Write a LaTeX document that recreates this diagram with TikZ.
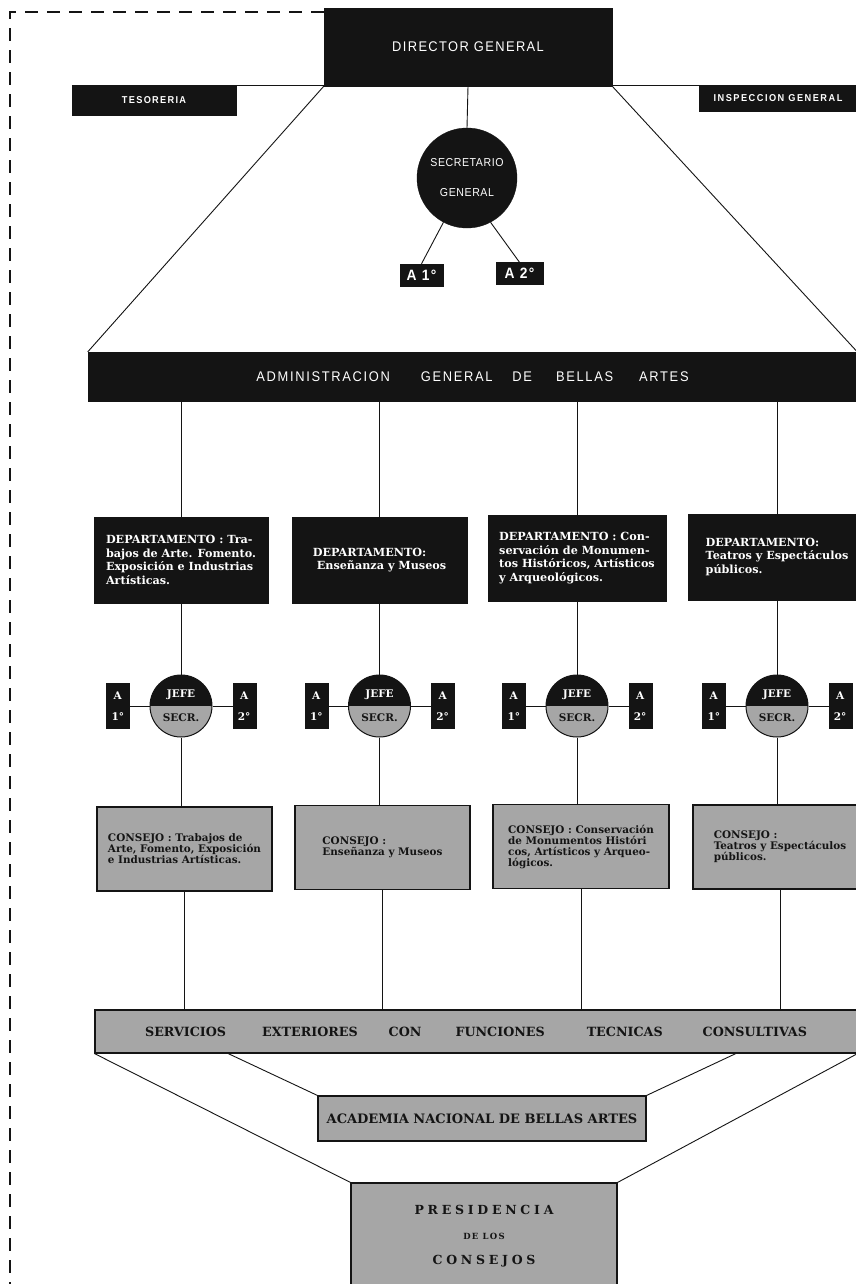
\documentclass[tikz,border=0pt]{standalone}
\usepackage{fontspec}
\setmainfont{DejaVu Serif}
\newfontfamily\gothic{Liberation Sans}[FakeStretch=0.92]
\newfontfamily\slab{DejaVu Serif}
\usepackage{tikz}
\usetikzlibrary{positioning}
\definecolor{chartInk}{HTML}{141414}
\definecolor{chartScreen}{HTML}{A6A6A6}
\definecolor{chartPaper}{HTML}{FFFFFF}
\tikzset{
  inkbox/.style={fill=chartInk, draw=chartInk, text=white, inner sep=0pt},
  screenbox/.style={fill=chartScreen, draw=chartInk, line width=1.1pt,
    text=chartInk, inner sep=0pt, align=left},
  link/.style={draw=chartInk, line width=0.9pt},
  framedash/.style={draw=chartInk, line width=1.1pt,
    dash pattern=on 13pt off 9pt},
  deptbox/.style={inkbox, minimum height=86pt, align=left,
    font=\slab\bfseries\fontsize{11.2}{13.4}\selectfont},
  consejobox/.style={screenbox, minimum height=84pt,
    font=\slab\bfseries\fontsize{10.4}{11}\selectfont},
  jefe/.style={circle, draw=chartInk, line width=1pt, minimum size=62pt,
    inner sep=0pt, align=center, text=chartInk,
    font=\slab\bfseries\fontsize{10.5}{12}\selectfont,
    path picture={
      \fill[chartScreen] (path picture bounding box.south west)
        rectangle (path picture bounding box.east);
      \fill[chartInk] (path picture bounding box.west)
        rectangle (path picture bounding box.north east);}},
  ayubox/.style={inkbox, minimum width=23pt, minimum height=45pt,
    align=center, font=\slab\bfseries\fontsize{10.5}{12}\selectfont},
  gothicbar/.style={font=\gothic\addfontfeature{LetterSpace=12}%
    \fontsize{14}{16}\selectfont}
}

\begin{document}
\begin{tikzpicture}[x=1pt, y=-1pt]
    \useasboundingbox (0,0) rectangle (856,1284);
    \clip (0,0) rectangle (856,1284);
    \fill[chartPaper] (0,0) rectangle (856,1284);
    % ---- (a) direccion general ----
    \node[inkbox, minimum width=288pt, minimum height=78pt,
      font=\gothic\addfontfeature{LetterSpace=10}\fontsize{14}{16}\selectfont]
      (director) at (468,47) {DIRECTOR GENERAL};
    \node[inkbox, minimum width=164pt, minimum height=29pt,
      font=\gothic\bfseries\addfontfeature{LetterSpace=13}%
      \fontsize{10}{12}\selectfont] (tesoreria)
      at (154,100.5) {TESORERIA};
    \node[inkbox, minimum width=158pt, minimum height=25pt,
      font=\gothic\bfseries\addfontfeature{LetterSpace=15}%
      \fontsize{10}{12}\selectfont] (inspeccion)
      at (778,98.5) {INSPECCION GENERAL};
    \draw[link] (tesoreria.north west) -- (inspeccion.north east);
    \coordinate (frameTop) at (10,12);
    \coordinate (frameBot) at (10,1284);
    \draw[framedash] (director.west |- frameTop) -- (frameTop) -- (frameBot);
    \node[inkbox, circle, minimum size=100pt, align=center,
      font=\gothic\addfontfeature{LetterSpace=5}\fontsize{11.5}{13}\selectfont]
      (secretario) at (467,178) {SECRETARIO\\[17pt]GENERAL};
    \node[inkbox, minimum width=43pt, minimum height=22pt,
      font=\gothic\bfseries\addfontfeature{LetterSpace=10}%
      \fontsize{15}{16}\selectfont] (ayuda1)
      at (421.5,275) {A 1°};
    \node[inkbox, minimum width=47pt, minimum height=22pt,
      font=\gothic\bfseries\addfontfeature{LetterSpace=10}%
      \fontsize{15}{16}\selectfont] (ayuda2)
      at (519.5,273.5) {A 2°};
    \draw[link] (director.south) -- (secretario.north);
    \draw[link] (secretario.-118) -- (ayuda1.north);
    \draw[link] (secretario.-62) -- (ayuda2.north);
    \node[inkbox, gothicbar, minimum width=769pt, minimum height=49pt]
      (admin) at (472.5,376.5)
      {ADMINISTRACION\hspace{31pt}GENERAL\hspace{20pt}DE\hspace{24pt}%
       BELLAS\hspace{26pt}ARTES};
    \draw[link] (director.south west) -- (admin.north west);
    \draw[link] (director.south east) -- (admin.north east);
    % ---- (b) departamentos ----
    \node[deptbox, minimum width=174pt] (dept1) at (181,560)
      {DEPARTAMENTO : Tra-\\bajos de Arte. Fomento.\\
       Exposición e Industrias\\Artísticas.};
    \node[deptbox, minimum width=175pt] (dept2) at (379.5,560)
      {DEPARTAMENTO:\\\hspace*{4pt}Enseñanza y Museos};
    \node[deptbox, minimum width=178pt] (dept3) at (577,558)
      {DEPARTAMENTO : Con-\\servación de Monumen-\\
       tos Históricos, Artísticos\\y Arqueológicos.};
    \node[deptbox, minimum width=178pt] (dept4) at (777,557)
      {DEPARTAMENTO:\\Teatros y Espectáculos\\públicos.};
    \foreach \i in {1,...,4}
      \draw[link] (dept\i.north |- admin.south) -- (dept\i.north);
    % ---- (c) jefaturas ----
    \foreach \i/\x in {1/181, 2/379.5, 3/577, 4/777} {
      \node[jefe] (jefe\i) at (\x,706)
        {\textcolor{white}{JEFE}\\[12pt]SECR.};
      \node[ayubox, left=20pt of jefe\i] (ayuL\i) {A\\[9pt]1°};
      \node[ayubox, right=20pt of jefe\i] (ayuR\i) {A\\[9pt]2°};
      \draw[link] (ayuL\i) -- (jefe\i);
      \draw[link] (jefe\i) -- (ayuR\i);
      \draw[link] (dept\i.south) -- (jefe\i.north);
    }
    % ---- (d) consejos ----
    \node[consejobox, minimum width=175pt] (consejo1) at (184.5,849)
      {CONSEJO : Trabajos de\\Arte, Fomento, Exposición\\
       e Industrias Artísticas.};
    \node[consejobox, minimum width=175pt] (consejo2) at (382.5,847.5)
      {CONSEJO :\\Enseñanza y Museos};
    \node[consejobox, minimum width=176pt] (consejo3) at (581,846.5)
      {CONSEJO : Conservación\\de Monumentos Históri\\
       cos, Artísticos y Arqueo-\\lógicos.};
    \node[consejobox, minimum width=174pt] (consejo4) at (780,847)
      {CONSEJO :\\Teatros y Espectáculos\\públicos.};
    \node[screenbox, minimum width=762pt, minimum height=43pt,
      font=\slab\bfseries\fontsize{12.7}{14}\selectfont] (servicios)
      at (476,1031.5)
      {SERVICIOS\hspace{36pt}EXTERIORES\hspace{31pt}CON\hspace{34pt}%
       FUNCIONES\hspace{42pt}TECNICAS\hspace{40pt}CONSULTIVAS};
    \foreach \i in {1,...,4} {
      \draw[link] (jefe\i.south) -- (jefe\i.south |- consejo\i.north);
      \draw[link] (consejo\i.south) -- (consejo\i.south |- servicios.north);
    }
    % ---- (e) academia y presidencia ----
    \node[screenbox, minimum width=328pt, minimum height=45pt,
      font=\slab\bfseries\fontsize{13}{15}\selectfont] (academia)
      at (482,1118.5) {ACADEMIA NACIONAL DE BELLAS ARTES};
    \node[screenbox, minimum width=266pt, minimum height=107pt, align=center,
      font=\slab\bfseries\fontsize{12.5}{13}\selectfont] (presidencia)
      at (484,1236.5)
      {\addfontfeature{LetterSpace=30}PRESIDENCIA\\[12pt]
       {\addfontfeature{LetterSpace=15}\fontsize{8.5}{9}\selectfont DE LOS}%
       \\[12pt]
       \addfontfeature{LetterSpace=30}CONSEJOS};
    \coordinate (fanL) at (227,1053);
    \coordinate (fanR) at (737,1053);
    \draw[link] (servicios.south west) -- (presidencia.north west);
    \draw[link] (servicios.south east) -- (presidencia.north east);
    \draw[link] (fanL) -- (academia.north west);
    \draw[link] (fanR) -- (academia.north east);
\end{tikzpicture}
\end{document}
